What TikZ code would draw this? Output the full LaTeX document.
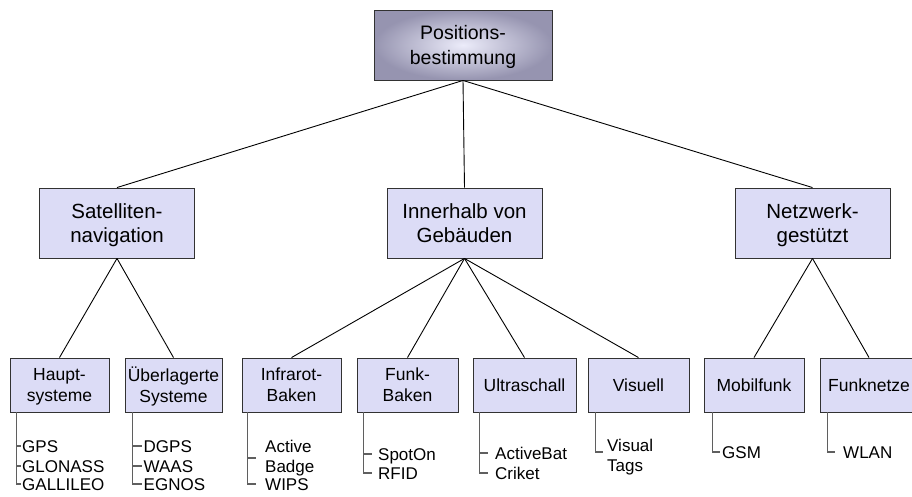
\documentclass[tikz,border=0pt]{standalone}
\usepackage{fontspec}
\setmainfont{Liberation Sans}
\definecolor{boxfill}{RGB}{220,220,246}
\definecolor{topin}{RGB}{236,236,250}
\definecolor{topout}{RGB}{150,148,176}
\definecolor{boxline}{RGB}{50,50,50}
\definecolor{subgray}{RGB}{95,95,95}
\begin{document}
\begin{tikzpicture}[x=1pt,y=-1pt,
  box/.style={draw=boxline, line width=0.9pt, align=center, inner sep=0pt, text depth=0pt},
  big/.style={box, fill=boxfill, font=\fontsize{20.5}{24.5}\selectfont, minimum width=155pt, minimum height=70pt},
  small/.style={box, fill=boxfill, font=\fontsize{17.5}{21}\selectfont, minimum height=54pt},
  conn/.style={draw=black, line width=0.9pt},
  sub/.style={draw=subgray, line width=1.3pt},
  item/.style={anchor=west, font=\fontsize{17}{20}\selectfont, inner ysep=0pt, inner xsep=1pt, text height=12.2pt, text depth=0pt},
  itemtwo/.style={anchor=west, font=\fontsize{17}{20}\selectfont, inner ysep=0pt, inner xsep=1pt, align=left}
]
\useasboundingbox (0,0) rectangle (912,496);

% main boxes
\node[box, inner color=topin, outer color=topout, font=\fontsize{19.5}{24.5}\selectfont,
      minimum width=178pt, minimum height=70pt] (top) at (463,45) {Positions-\\bestimmung};
\node[big] (sat) at (117,223) {Satelliten-\\navigation};
\node[big] (inn) at (464.5,223) {Innerhalb von\\Gebäuden};
\node[big] (net) at (812.5,223) {Netzwerk-\\gestützt};

% second level
\node[small, minimum width=99pt]  (hs) at (59.5,385)  {Haupt-\\systeme};
\node[small, minimum width=97pt]  (us) at (173.5,385) {Überlagerte\\Systeme};
\node[small, minimum width=99pt]  (ib) at (291.5,385) {Infrarot-\\Baken};
\node[small, minimum width=101pt] (fb) at (407.5,385) {Funk-\\Baken};
\node[small, minimum width=103pt] (ul) at (524.5,385) {Ultraschall};
\node[small, minimum width=101pt] (vi) at (638.5,385) {Visuell};
\node[small, minimum width=100pt] (mf) at (754,385)   {Mobilfunk};
\node[small, minimum width=98pt]  (fn) at (869,385)   {Funknetze};

% connectors
\draw[conn] (top.south) -- (sat.north);
\draw[conn] (top.south) -- (inn.north);
\draw[conn] (top.south) -- (net.north);
\draw[conn] (sat.south) -- (hs.north);
\draw[conn] (sat.south) -- (us.north);
\draw[conn] (inn.south) -- (ib.north);
\draw[conn] (inn.south) -- (fb.north);
\draw[conn] (inn.south) -- (ul.north);
\draw[conn] (inn.south) -- (vi.north);
\draw[conn] (net.south) -- (mf.north);
\draw[conn] (net.south) -- (fn.north);

% Hauptsysteme
\coordinate (hsL) at ([xshift=7pt]hs.south west);
\node[item] (gps) at (21,446) {GPS};
\node[item] (glonass) at (21,466) {GLONASS};
\node[item] (galileo) at (21,484) {GALLILEO};
\draw[sub] (hsL) |- (galileo.west);
\draw[sub] (hsL |- gps.west) -- (gps.west);
\draw[sub] (hsL |- glonass.west) -- (glonass.west);

% Ueberlagerte Systeme
\coordinate (usL) at ([xshift=8pt]us.south west);
\node[item, inner xsep=1.5pt] (dgps) at (142,446) {DGPS};
\node[item, inner xsep=1.5pt] (waas) at (142,466) {WAAS};
\node[item, inner xsep=1.5pt] (egnos) at (142,484) {EGNOS};
\draw[sub] (usL) |- (egnos.west);
\draw[sub] (usL |- dgps.west) -- (dgps.west);
\draw[sub] (usL |- waas.west) -- (waas.west);

% Infrarot-Baken
\coordinate (ibL) at ([xshift=6pt]ib.south west);
\node[itemtwo, inner xsep=9pt] (badge) at (256,458) {Active\\Badge};
\node[item, inner xsep=9pt] (wips) at (256,484) {WIPS};
\draw[sub] (ibL) |- (wips.west);
\draw[sub] (ibL |- badge.west) -- (badge.west);

% Funk-Baken
\coordinate (fbL) at ([xshift=7pt]fb.south west);
\node[item, inner xsep=6pt] (spoton) at (372,454) {SpotOn};
\node[item, inner xsep=6pt] (rfid) at (372,473) {RFID};
\draw[sub] (fbL) |- (rfid.west);
\draw[sub] (fbL |- spoton.west) -- (spoton.west);

% Ultraschall
\coordinate (ulL) at ([xshift=7pt]ul.south west);
\node[item, inner xsep=7pt] (activebat) at (488,453) {ActiveBat};
\node[item, inner xsep=7pt] (criket) at (488,473) {Criket};
\draw[sub] (ulL) |- (criket.west);
\draw[sub] (ulL |- activebat.west) -- (activebat.west);

% Visuell
\coordinate (viL) at ([xshift=8pt]vi.south west);
\coordinate (viH) at (603,452);
\node[itemtwo, inner xsep=4pt] (vtags) at (603,456.6) {Visual\\Tags};
\draw[sub] (viL) |- (viH);

% Mobilfunk
\coordinate (mfL) at ([xshift=9pt]mf.south west);
\node[item, inner xsep=2pt] (gsm) at (720,452) {GSM};
\draw[sub] (mfL) |- (gsm.west);

% Funknetze
\coordinate (fnL) at ([xshift=8pt]fn.south west);
\node[item, inner xsep=8pt] (wlan) at (835,452) {WLAN};
\draw[sub] (fnL) |- (wlan.west);
\end{tikzpicture}
\end{document}
